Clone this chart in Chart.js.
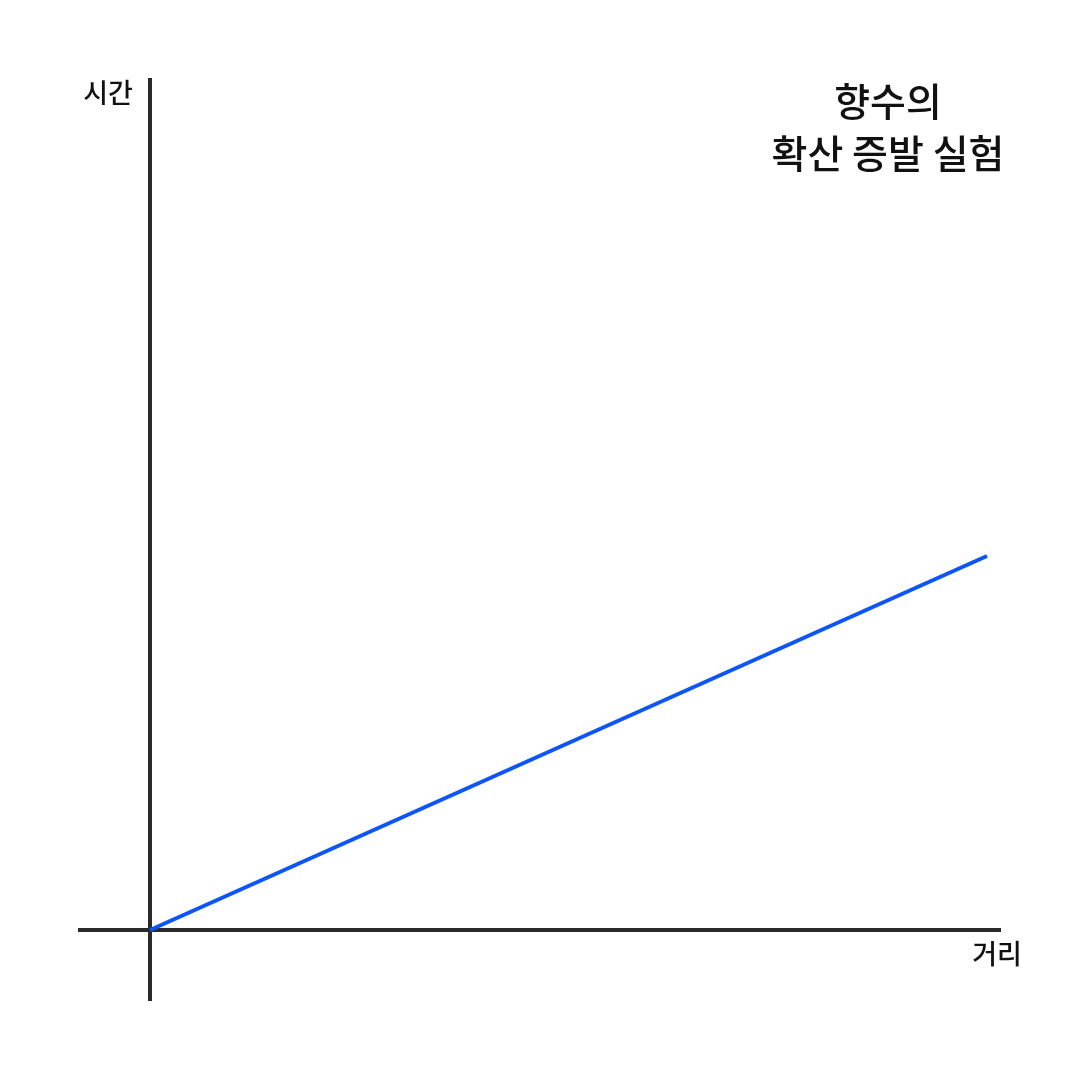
<!DOCTYPE html>
<html lang="ko">
<head>
<meta charset="utf-8">
<title>향수의 확산 증발 실험</title>
<script src="https://cdn.jsdelivr.net/npm/chart.js@4/dist/chart.umd.min.js"></script>
<style>
  html,body{margin:0;padding:0;background:#fff;}
  #wrap{width:1080px;height:1080px;position:relative;}
</style>
</head>
<body>
<div id="wrap"><canvas id="chart" width="1080" height="1080"></canvas></div>
<script>
  // data (arbitrary units: 1 unit ~ 1 px)
  const distance = [0, 837];
  const time = [0, 374];

  const titleLines = ["향수의", "확산 증발 실험"];
  const xLabel = "거리";
  const yLabel = "시간";

  const X_MIN = -70, X_MAX = 850;
  const Y_MIN = -70, Y_MAX = 850;

  const FONT = '"Noto Sans CJK KR", "Noto Sans", sans-serif';

  // labels + title drawn as text after the chart
  const textPlugin = {
    id: "labels",
    afterDraw(chart){
      const {ctx, chartArea, scales} = chart;
      const ox = scales.x.getPixelForValue(0);
      const oy = scales.y.getPixelForValue(0);
      ctx.save();
      ctx.fillStyle = "#111";
      ctx.textBaseline = "middle";
      ctx.textAlign = "center";

      ctx.font = "500 27px " + FONT;
      ctx.fillText(yLabel, ox - 42, chartArea.top + 13);
      ctx.fillText(xLabel, chartArea.right - 3, oy + 24);

      ctx.font = "500 39px " + FONT;
      titleLines.forEach((t,i)=>{
        ctx.fillText(t, 888, 101 + i*52);
      });
      ctx.restore();
    }
  };

  const axisOpts = (pos, min, max) => ({
    type: "linear",
    position: pos,
    min, max,
    grid: { display: false },
    ticks: { display: false },
    border: { display: true, color: "#2a2a2a", width: 4 }
  });

  new Chart(document.getElementById("chart"), {
    type: "scatter",
    data: {
      datasets: [{
        data: distance.map((d,i)=>({x:d, y:time[i]})),
        showLine: true,
        borderColor: "#0a55ff",
        borderWidth: 4,
        pointRadius: 0,
        fill: false
      }]
    },
    options: {
      responsive: false,
      animation: false,
      layout: { padding: { left: 80, right: 80, top: 80, bottom: 80 } },
      plugins: { legend: { display: false }, tooltip: { enabled: false }, title: { display: false } },
      scales: {
        x: axisOpts({y: 0}, X_MIN, X_MAX),
        y: axisOpts({x: 0}, Y_MIN, Y_MAX)
      }
    },
    plugins: [textPlugin]
  });
</script>
</body>
</html>
